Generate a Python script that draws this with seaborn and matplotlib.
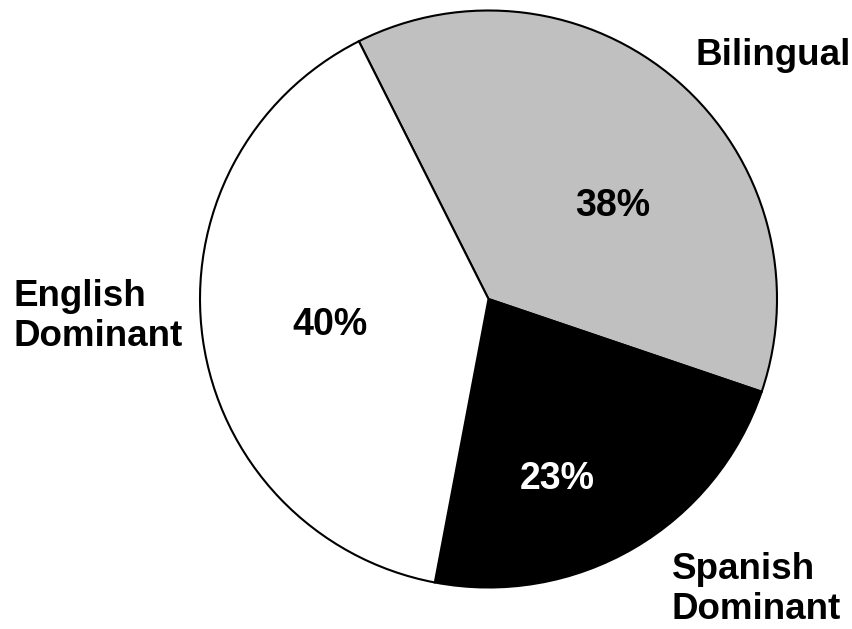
import matplotlib
matplotlib.use("Agg")
import matplotlib.pyplot as plt
import seaborn as sns

categories = ["Bilingual", "Spanish\nDominant", "English\nDominant"]
values = [38, 23, 40]
pct_labels = ["38%", "23%", "40%"]
colors = ["#C0C0C0", "#000000", "#FFFFFF"]
pct_colors = ["black", "white", "black"]

sns.set_theme(style="white")
plt.rcParams['font.family'] = ['Liberation Sans', 'DejaVu Sans']

W, H = 852, 629
fig = plt.figure(figsize=(W / 100, H / 100), dpi=100)
cx, cy, r = 488.5, 299, 288.5
ax = fig.add_axes([(cx - r) / W, 1 - (cy + r) / H, 2 * r / W, 2 * r / H])

wedges, _ = ax.pie(values, colors=colors, startangle=116.7, counterclock=False,
                   radius=1.0,
                   wedgeprops=dict(edgecolor="black", linewidth=1.5))
ax.set_xlim(-1, 1)
ax.set_ylim(-1, 1)
ax.set_aspect("equal")
ax.axis("off")

def px(x, y):
    return x / W, 1 - y / H

# percentage labels (pixel positions of baseline centres)
pct_pos = [(613, 216), (557, 489), (330, 335)]
for (x, y), t, c in zip(pct_pos, pct_labels, pct_colors):
    fig.text(*px(x, y), t, ha="center", va="baseline", fontsize=27,
             fontweight="bold", color=c)

# category labels (left x, last-line baseline)
cat_pos = [(695, 65), (672, 619), (14, 346)]
for (x, y), t in zip(cat_pos, categories):
    fig.text(*px(x, y), t, ha="left", va="baseline", fontsize=26.5,
             fontweight="bold", color="black", linespacing=1.17)

fig.savefig("out.png", dpi=100, facecolor="white")
